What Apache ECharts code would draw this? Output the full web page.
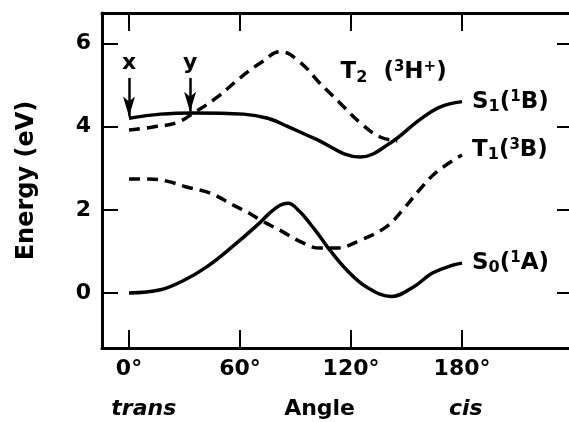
<!DOCTYPE html>
<html>
<head>
<meta charset="utf-8">
<script src="https://cdn.jsdelivr.net/npm/echarts@6/dist/echarts.min.js"></script>
<style>
  html, body { margin: 0; padding: 0; background: #fff; }
  #myChart { width: 569px; height: 422px; }
</style>
</head>
<body>
<div id="myChart"></div>
<script>
// angle (deg) and energy (eV)
var s0Angle = [0, 17, 29, 42, 56, 69, 76, 81.6, 86, 92, 98, 103, 108.6, 117.8, 128.6, 142, 153.5, 164, 175, 180];
var s0Energy = [0, 0.08, 0.29, 0.63, 1.12, 1.62, 1.92, 2.11, 2.16, 1.97, 1.66, 1.37, 1.03, 0.55, 0.14, -0.08, 0.14, 0.48, 0.67, 0.72];

var s1Angle = [0, 17, 35, 62, 75, 85, 99.5, 125, 141, 157, 168, 180];
var s1Energy = [4.2, 4.3, 4.33, 4.3, 4.2, 4.02, 3.73, 3.27, 3.6, 4.16, 4.47, 4.6];

var t1Angle = [0, 11, 20.5, 31, 44, 56, 65, 72, 82, 92, 103, 112, 125, 139, 148, 157, 166, 180];
var t1Energy = [2.74, 2.74, 2.69, 2.55, 2.4, 2.12, 1.92, 1.73, 1.5, 1.25, 1.08, 1.08, 1.27, 1.59, 2.0, 2.48, 2.9, 3.32];

var t2Angle = [0, 13, 26, 35.7, 47.5, 60, 71, 82, 92.4, 103, 114, 125, 135.7, 145];
var t2Energy = [3.92, 3.99, 4.1, 4.35, 4.7, 5.17, 5.53, 5.8, 5.55, 5.05, 4.57, 4.09, 3.75, 3.66];

var angleTicks = [0, 60, 120, 180];
var energyTicks = [0, 2, 4, 6];

function pairs(xs, ys) {
  return xs.map(function (x, i) { return [x, ys[i]]; });
}

var font = "DejaVu Sans";
var ink = "#000";

var labelRich = {
  m: { fontFamily: font, fontWeight: "bold", fontSize: 23, color: ink },
  sub: { fontFamily: font, fontWeight: "bold", fontSize: 16, color: ink, padding: [10, 0, 0, 0] },
  sup: { fontFamily: font, fontWeight: "bold", fontSize: 15, color: ink, padding: [0, 0, 10, 0] }
};

var myChart = echarts.init(document.getElementById("myChart"));

var xBase = {
  type: "value",
  min: -14.6,
  max: 237.8,
  splitLine: { show: false },
  axisLine: { onZero: false, lineStyle: { color: ink, width: 3 } }
};
var yBase = {
  type: "value",
  min: -1.32,
  max: 6.73,
  splitLine: { show: false }
};

var option = {
  animation: false,
  backgroundColor: "#fff",
  grid: { left: 102, right: 0, top: 13, bottom: 74, outerBoundsMode: "none" },
  xAxis: [
    Object.assign({}, xBase, {
      position: "bottom",
      axisTick: { inside: true, length: 18, customValues: angleTicks, lineStyle: { color: ink, width: 2 } },
      axisLabel: {
        customValues: angleTicks,
        margin: 10,
        fontFamily: font, fontWeight: "bold", fontSize: 22, color: ink,
        formatter: function (v) { return v + "°"; }
      }
    }),
    Object.assign({}, xBase, {
      position: "top",
      axisTick: { inside: true, length: 18, customValues: angleTicks, lineStyle: { color: ink, width: 2 } },
      axisLabel: { show: false }
    }),
    Object.assign({}, xBase, {
      position: "bottom",
      offset: 50,
      axisLine: { show: false, onZero: false },
      axisTick: { show: false },
      axisLabel: {
        customValues: [8, 103, 182],
        margin: 0,
        fontFamily: font, fontWeight: "bold", fontSize: 22, color: ink,
        formatter: function (v) {
          if (v < 50) return "{i|trans}";
          if (v > 150) return "{i|cis}";
          return "Angle";
        },
        rich: { i: { fontFamily: font, fontWeight: "bold", fontStyle: "italic", fontSize: 22, color: ink } }
      }
    })
  ],
  yAxis: [
    Object.assign({}, yBase, {
      position: "left",
      name: "Energy (eV)",
      nameLocation: "middle",
      nameGap: 63,
      nameTextStyle: { fontFamily: font, fontWeight: "bold", fontSize: 24, color: ink },
      axisLine: { onZero: false, lineStyle: { color: ink, width: 3 } },
      axisTick: { inside: true, length: 16, customValues: energyTicks, lineStyle: { color: ink, width: 2 } },
      axisLabel: { customValues: energyTicks, margin: 11, fontFamily: font, fontWeight: "bold", fontSize: 22, color: ink }
    }),
    Object.assign({}, yBase, {
      position: "right",
      axisLine: { show: false, onZero: false },
      axisTick: { show: true, inside: true, length: 12, customValues: energyTicks, lineStyle: { color: ink, width: 2 } },
      axisLabel: { show: false }
    })
  ],
  series: [
    {
      name: "S0",
      type: "line",
      data: pairs(s0Angle, s0Energy),
      smooth: 0.4,
      symbol: "none",
      lineStyle: { color: ink, width: 3.5 },
      endLabel: {
        show: true, distance: 10,
        formatter: "{m|S}{sub|0}{m|(}{sup|1}{m|A)}",
        rich: labelRich
      }
    },
    {
      name: "S1",
      type: "line",
      data: pairs(s1Angle, s1Energy),
      smooth: 0.4,
      symbol: "none",
      lineStyle: { color: ink, width: 3.5 },
      endLabel: {
        show: true, distance: 10,
        formatter: "{m|S}{sub|1}{m|(}{sup|1}{m|B)}",
        rich: labelRich
      },
      markLine: {
        silent: true,
        symbol: ["none", "arrow"],
        symbolSize: 14,
        lineStyle: { color: ink, width: 2.5, type: "solid" },
        label: {
          show: true, position: "start", distance: 4,
          formatter: "{b}",
          fontFamily: font, fontWeight: "bold", fontSize: 22, color: ink
        },
        data: [
          [{ name: "x", coord: [0, 5.17] }, { coord: [0, 4.24], symbolSize: [9, 20] }],
          [{ name: "y", coord: [33, 5.17] }, { coord: [33, 4.36], symbolSize: [9, 20] }]
        ]
      }
    },
    {
      name: "T1",
      type: "line",
      data: pairs(t1Angle, t1Energy),
      smooth: 0.4,
      symbol: "none",
      lineStyle: { color: ink, width: 3.5, type: [11, 7] },
      endLabel: {
        show: true, distance: 10, offset: [0, -5],
        formatter: "{m|T}{sub|1}{m|(}{sup|3}{m|B)}",
        rich: labelRich
      }
    },
    {
      name: "T2",
      type: "line",
      data: pairs(t2Angle, t2Energy),
      smooth: 0.4,
      symbol: "none",
      lineStyle: { color: ink, width: 3.5, type: [11, 7] },
      markPoint: {
        silent: true,
        symbol: "circle",
        symbolSize: 0,
        label: {
          show: true, position: "inside",
          formatter: "{m|T}{sub|2}{m|  (}{sup|3}{m|H}{sup|+}{m|)}",
          rich: labelRich
        },
        data: [{ coord: [143, 5.3] }]
      }
    }
  ]
};

myChart.setOption(option);
</script>
</body>
</html>
